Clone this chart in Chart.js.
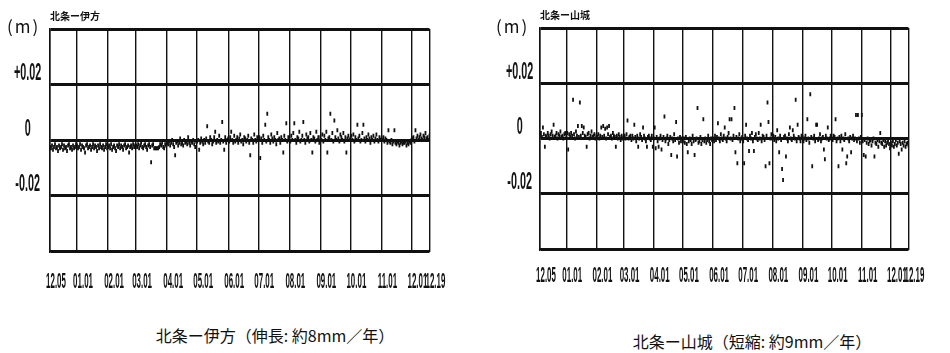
<!DOCTYPE html>
<html>
<head>
<meta charset="utf-8">
<script src="https://cdn.jsdelivr.net/npm/chart.js@4.4.1/dist/chart.umd.min.js"></script>
<style>
  body { margin: 0; background: #fff; width: 950px; height: 353px; position: relative; overflow: hidden; font-family: "Noto Sans CJK JP", sans-serif; color: #111; }
  canvas { position: absolute; top: 0; }
  #chartIkata { left: 0; }
  #chartYamashiro { left: 475px; }
  .unit { position: absolute; top: 16px; font-size: 17px; line-height: 20px; letter-spacing: 2px; }
  .caption { position: absolute; font-size: 16px; line-height: 20px; white-space: nowrap; transform: translateX(-50%); }
</style>
</head>
<body>
<canvas id="chartIkata" width="475" height="300"></canvas>
<canvas id="chartYamashiro" width="475" height="300"></canvas>
<div class="unit" style="left:7px">(m)</div>
<div class="unit" style="left:496px">(m)</div>
<div class="caption" style="left:275px; top:325px">北条ー伊方（伸長: 約8mm／年）</div>
<div class="caption" style="left:752px; top:331px">北条ー山城（短縮: 約9mm／年）</div>
<script>
// days counted from 12.05, one value per day (mm)
const tickDays = [0, 27, 58, 86, 117, 147, 178, 208, 239, 270, 300, 331, 361, 379];
const tickLabels = ['12.05', '01.01', '02.01', '03.01', '04.01', '05.01', '06.01',
  '07.01', '08.01', '09.01', '10.01', '11.01', '12.01', '12.19'];
const yTicks = [-0.04, -0.02, 0, 0.02, 0.04];
const yTickLabels = ['', '-0.02', '0', '+0.02', ''];

const ikataMm = [
  // 12.05 - 12.31
  -2.5, -3, -2, -3.5, -2.5, -1.5, -3, -2.5, -4, -2, -3, -2.5, -1.5, -3.5, -2, -3, -2.5, -4, -2, -1.5, -3, -2.5, -3.5, -2, -3, -2.5, -1.5,
  // 01
  -2, -3, -2.5, -1.5, -3.5, -2, -2.5, -3, -4.5, -2, -1.5, -3, -2.5, -2, -3.5, -2.5, -1.5, -3, -2, -2.5, -4, -2, -3, -1.5, -2.5, -3, -2, -3.5, -2.5, -1.5, -3,
  // 02
  -2.5, -2, -3, -1.5, -3.5, -2.5, -2, -3, -4, -2, -2.5, -1.5, -3, -2, -2.5, -3.5, -2, -1.5, -3, -2.5, -2, -4.5, -2.5, -2, -3, -1.5, -2.5, -2,
  // 03
  -2, -2.5, -1.5, -3, -2, -1, -2.5, -3, -2, -1.5, -2.5, -3.5, -2, -1.5, -2.5, -8, -2, -1.5, -3, -3, -3, -3, -3, -2.5, -1.5, -2, -1, -2.5, -3, -1.5, -2,
  // 04
  -1, -1.5, -0.5, -2, -1, 0, -1.5, -2.5, -5.5, -1, -0.5, -2, -1, 0.5, -1.5, -1, -2, 0, -1, -0.5, -1.5, 1, -1, -2, -0.5, -1, 0, -1.5, -2.5, -0.5,
  // 05
  -0.5, 0, -3.5, -1, 0.5, -0.5, -1.5, 0, -1, 0.5, 5, -0.5, -1, 1, 0, -1.5, -0.5, 1, 3, -1, 0, -0.5, 1.5, -1, 0, 6.5, -0.5, -3.5, 1, -1, 0,
  // 06
  0.5, -0.5, 1, 3, 0, -1, 1.5, -0.5, 0, 1, -1, 0.5, 2, -0.5, 0, -1.5, 1, 0.5, -0.5, 0, 1.5, -1, -5.5, 0.5, 0, -1, 2, 0, -0.5, 1,
  // 07
  0, 1, -6.5, 0.5, -1, 1.5, 0, 5.5, -0.5, 9.5, 1, 0, -1, 2, 0.5, -0.5, 1, 0, -1.5, 2.5, 0, 0.5, -1, 1, 0, -4.5, 1.5, 0, 6, -0.5, 1,
  // 08
  0.5, -0.5, 1.5, 0, 2.5, 6, 0, -1, 1, 0.5, 3, -0.5, 0, 1.5, 6.5, 0, -1, 2, 0.5, 1, -0.5, 2.5, 0, -4.5, 1, 0.5, -0.5, 3, 0, 1, -1,
  // 09
  1, 0, 2, -0.5, 1.5, 0, 3, -4.5, 0.5, 1, 9.5, 0, 2.5, -0.5, 7, 1, 0, 3.5, 0.5, -0.5, 2, 1, 0, 2.5, -0.5, 1, -4.5, 0.5, 1.5, 0,
  // 10
  0.5, 1.5, 0, 2, -0.5, 1, 0, 5.5, 0.5, 1.5, -0.5, 0, 2.5, 5.5, 0.5, -0.5, 1, 0, 2, 0.5, -1, 1, 0, 1.5, -0.5, 0.5, 2, 0, -0.5, 1, 0,
  // 11
  0.5, 0, 1, -0.5, 0.5, 0, -1, 3.5, -0.5, -1, 0, -1.5, -0.5, 3.5, -1, -1.5, -0.5, -1, -2, -1, -0.5, -1.5, -1, -1, -0.5, -2, -1, -1.5, -0.5, -1,
  // 12.01 - 12.19
  0, 0.5, 1, -0.5, 3.5, 0.5, 1.5, 0, 1, 2, 0.5, 0, 1.5, 1, 2.5, 0.5, 1, 0, 1.5,
];

const yamashiroMm = [
  // 12.05 - 12.31
  1, 2, 0.5, 4, 1.5, -3, 1, 0.5, 2, 1, 0, 1.5, 2.5, 1, 5, 0.5, 1, 2, 0, 1.5, 1, 2.5, 0.5, 1, 0, 1.5, 2,
  // 01
  1, 2, -4, 1.5, 0.5, 2, 1, 14, 1.5, 0, 2.5, 1, 4.5, 0.5, 13, 1, 4.5, 2, 4, 1, 0.5, -3, 1.5, 2, 0, 1, 2.5, 0.5, 1, 1.5, 0,
  // 02
  1, 0.5, 1.5, 0, 1, 4, 0.5, 4.5, 1, 3.5, 0, 4, 1.5, 4.5, 0.5, 1, 0, 2, 1, 0.5, -3, 1, 0, 1.5, 0.5, -0.5, 1, 0,
  // 03
  0.5, 1, 0, 1.5, 6.5, 0, 0.5, 1, -0.5, 1, 0, 5, 0.5, -1, 1, -3, 0, 1.5, 0.5, -0.5, 4, 1, 0, -1, -3, 0.5, 1, 0, -0.5, 1, -3,
  // 04
  0, 4, -3.5, 0.5, -1, -3, 0, 1, -4, -0.5, 0.5, 8, -1, 0, 1, -2, -0.5, 0.5, -6, 0, -1, 1.5, -0.5, 6, -6.5, 0, -1.5, 0.5, -1, 0,
  // 05
  -1, 0, -1.5, 0.5, -2, -5, -1, 0, -0.5, -2, 1, -1, -6, -0.5, 0, 11, -1.5, -1, 0.5, -2, -0.5, 7, -1, 0, -1.5, -0.5, 1, -1, -2, 0, -0.5,
  // 06
  0, -1, 1, -0.5, 0.5, 5.5, 0, -1, 1.5, 0, -0.5, 1, 4, 0, -1, 0.5, 2, 7, 0, 7, -0.5, 1, 11, -5, 0.5, -9, 0, 1.5, -1, 0,
  // 07
  0.5, -1, -9, 1, 5, 0, -0.5, -4.5, 1, 0, 2, -1, -4.5, 0.5, 1.5, 0, -0.5, 2, 0, 5, -1, 1, 0.5, -0.5, -10, 1, 13, 6, -9, 0, 1.5,
  // 08
  0, 1, -0.5, 0.5, -1, 3, 0, -5, 1, -0.5, -11, -15, 0.5, 1, -6.5, 0, -1, 1.5, 4, 0, -0.5, 3, 1, 0, 14, -1, 5, 0.5, 0, -1, 1,
  // 09
  0.5, -1, 0, 1, -0.5, 7, 0, -1.5, 16, 0.5, -10, 0, 1, -1, 5, 5, -0.5, 0, 1.5, -1, 0, 0.5, -4, -7.5, 1, 0, 4, -0.5, 0, 1,
  // 10
  0, -0.5, 1, 0.5, 7, -1, 0, -10, 0.5, -1, 1, -4, 0, -0.5, 1.5, -9, -6.5, 0, -1, 0.5, -5, 0, 1, -0.5, 0, 8.5, -1, 8.5, 0, -1.5, 0.5,
  // 11
  8.5, -1, -6, -0.5, -6.5, -1.5, 0, -2, -1, -0.5, -2.5, -1, 0, -6.5, -1.5, -2, -0.5, -3, -1, 2, -1.5, -2, -0.5, -3, -1, -2.5, -1.5, -0.5, -2, -3.5,
  // 12.01 - 12.19
  -1.5, -2.5, -1, -3, -2, -0.5, -2.5, -1.5, -5.5, -1, -2, -4, -1.5, -2.5, -1, -3, -2, -1.5, -2.5,
];

const ink = '#111';
const tickFont = '"Liberation Sans", Arial, sans-serif';
const cjkFont = '"Noto Sans CJK JP", sans-serif';

const toPoints = (values) => values.map((mm, day) => ({ x: day, y: mm / 1000 }));

// the scanned axes use a very condensed face; squeeze tick text with fillText's maxWidth
const squeezeTicks = {
  id: 'squeezeTicks',
  beforeDraw(chart) {
    const { ctx } = chart;
    Object.values(chart.scales).forEach((scale) => {
      const factor = scale.axis === 'x' ? 0.36 : 0.45;
      scale.getLabelItems().forEach((item) => {
        ctx.font = item.font.string;
        item.options.maxWidth = ctx.measureText(item.label).width * factor;
      });
    });
  },
};

const makeChart = (canvasId, values, title, frame) => {
  const ctx = document.getElementById(canvasId).getContext('2d');
  return new Chart(ctx, {
    type: 'scatter',
    data: {
      datasets: [{
        data: toPoints(values),
        pointStyle: 'line',
        rotation: 90,
        radius: 2,
        borderWidth: 1.8,
        borderColor: ink,
        backgroundColor: ink,
      }],
    },
    plugins: [squeezeTicks],
    options: {
      responsive: false,
      animation: false,
      devicePixelRatio: 1,
      layout: { padding: { left: 0, right: frame.right, top: 0, bottom: 0 } },
      plugins: {
        legend: { display: false },
        tooltip: { enabled: false },
        title: {
          display: true,
          text: title,
          align: 'start',
          fullSize: false,
          color: ink,
          font: { family: cjkFont, size: 10, weight: 'bold', lineHeight: 1.2 },
          padding: { top: frame.top - 19, bottom: 7 },
        },
      },
      scales: {
        x: {
          type: 'linear',
          min: 0,
          max: 379,
          afterBuildTicks: (scale) => { scale.ticks = tickDays.map((v) => ({ value: v })); },
          afterFit: (scale) => { scale.height = 300 - frame.bottom; },
          grid: { color: ink, lineWidth: 1.4, drawTicks: false },
          border: { color: ink, width: 2 },
          ticks: {
            autoSkip: false,
            maxRotation: 0,
            minRotation: 0,
            labelOffset: 6,
            padding: frame.xPad,
            color: ink,
            font: { family: tickFont, size: 22, weight: 'bold' },
            callback: (value, index) => tickLabels[index],
          },
        },
        y: {
          min: -0.04,
          max: 0.04,
          afterBuildTicks: (scale) => { scale.ticks = yTicks.map((v) => ({ value: v })); },
          afterFit: (scale) => { scale.width = frame.left; },
          grid: { color: ink, lineWidth: 3, drawTicks: false },
          border: { color: ink, width: 1.5 },
          ticks: {
            crossAlign: 'center',
            labelOffset: -11,
            padding: frame.yPad,
            color: ink,
            font: { family: tickFont, size: 24, weight: 'bold' },
            callback: (value, index) => yTickLabels[index],
          },
        },
      },
    },
  });
};

makeChart('chartIkata', ikataMm, '北条ー伊方', { left: 50, right: 32, top: 29, bottom: 251, xPad: 18, yPad: -8 });
makeChart('chartYamashiro', yamashiroMm, '北条ー山城', { left: 65, right: 16, top: 28, bottom: 249, xPad: 14, yPad: -10 });
</script>
</body>
</html>
